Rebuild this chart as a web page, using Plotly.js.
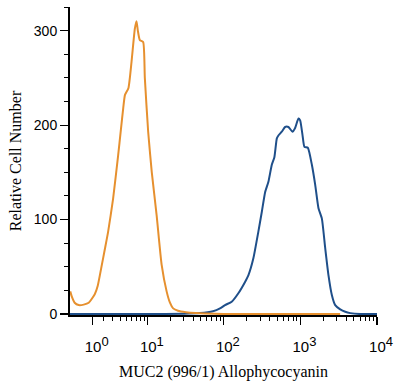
<!DOCTYPE html>
<html><head><meta charset="utf-8">
<script src="https://cdn.plot.ly/plotly-3.0.1.min.js"></script>
<style>html,body{margin:0;padding:0;background:#fff}</style>
</head><body><div id="chart" style="width:400px;height:386px"></div>
<script>
// Isotype control (orange): fluorescence intensity and cell counts
const isotypeIntensity = [-0.86, -0.74, -0.49, -0.16, 0.25, 0.66, 1.18, 1.45, 1.80, 2.13,
  2.49, 3.07, 3.73, 4.12, 4.48, 4.76, 5.35, 5.94, 6.62, 6.99,
  7.29, 7.77, 8.63, 9.10, 10.1, 11.3, 13.1, 15.3, 17.8, 19.7,
  21.7, 25.1, 31.9, 43.2, 56.7, 100, 300, 1000, 3300];
const isotypeCount = [24, 19, 12, 9.5, 10, 12, 21, 30, 50, 68,
  87, 122, 168, 195, 218, 232, 239, 267, 302, 310,
  300, 290, 288, 250, 193, 150, 105, 52, 24, 12,
  6, 3.5, 2, 1, 0.5, 0, 0, 0, 0];
// MUC2 (996/1) stained (blue)
const mucIntensity = [-0.88, 10, 30, 48.7, 72.1, 89.1, 103.6, 126.7, 154.7, 189.2,
  209, 243, 282, 313, 346, 382, 423, 457, 492, 516,
  571, 631, 697, 786, 853, 942, 992, 1063, 1129, 1250,
  1411, 1558, 1721, 1906, 2106, 2326, 2577, 2846, 3310, 3849,
  4475, 6047, 10000];
const mucCount = [0, 0, 0.3, 1, 3, 6, 9.5, 13, 22, 34,
  41, 59, 87, 108, 129, 140, 158, 166, 186, 189,
  193, 198, 198, 193, 197, 207, 205, 190, 177, 176,
  158, 137, 112, 101, 70, 41, 20, 9.5, 5, 2.4,
  1, 0, 0];
const majorTickValues = [1, 10, 100, 1000, 10000];
const majorTickExponents = ['0', '1', '2', '3', '4'];
const minorTickValues = [2,3,4,5,6,7,8,9, 20,30,40,50,60,70,80,90,
  200,300,400,500,600,700,800,900, 2000,3000,4000,5000,6000,7000,8000,9000];
const yTickValues = [0, 100, 200, 300];
const yTickLabels = ['0', '100', '200', '300'];
const xRangeIntensity = [-0.88, 10000];
const yRange = [-1, 325];

// biexponential-like display scale (asinh)
const W = 2.7;
const T = v => Math.asinh(v / W) / Math.LN10;
const majorTickLabels = majorTickExponents.map(e => '10<sup><span style="font-size:13px">' + e + '</span></sup>');

const traces = [
  {x: mucIntensity.map(T), y: mucCount, type: 'scatter', mode: 'lines',
   line: {color: '#1f4f8a', width: 2, shape: 'spline', smoothing: 0.5}, hoverinfo: 'skip', name: 'MUC2'},
  {x: isotypeIntensity.map(T), y: isotypeCount, type: 'scatter', mode: 'lines',
   line: {color: '#e6902f', width: 2, shape: 'spline', smoothing: 0.5}, hoverinfo: 'skip', name: 'Isotype'}
];

const layout = {
  width: 400, height: 386,
  margin: {l: 70, r: 23, t: 7, b: 71},
  paper_bgcolor: '#fff', plot_bgcolor: '#fff',
  showlegend: false,
  xaxis: {
    range: xRangeIntensity.map(T),
    tickmode: 'array', tickvals: majorTickValues.map(T), ticktext: majorTickLabels,
    ticks: 'outside', ticklen: 8, tickwidth: 1.2, tickcolor: '#000',
    minor: {tickmode: 'array', tickvals: minorTickValues.map(T), ticks: 'outside', ticklen: 4, tickwidth: 1, tickcolor: '#000', showgrid: false},
    showline: true, linecolor: '#000', linewidth: 2,
    showgrid: false, zeroline: false,
    tickfont: {family: 'Liberation Sans, Arial, sans-serif', size: 15, color: '#000'},
    ticklabelshift: 4, ticklabelstandoff: 9,
    title: {text: 'MUC2 (996/1) Allophycocyanin', font: {family: 'Liberation Serif, Times New Roman, serif', size: 16, color: '#000'}, standoff: 12},
    automargin: false, fixedrange: true
  },
  yaxis: {
    range: yRange,
    tickmode: 'array', tickvals: yTickValues, ticktext: yTickLabels,
    ticks: 'outside', ticklen: 8, tickwidth: 1.2, tickcolor: '#000',
    minor: {dtick: 25, ticks: 'outside', ticklen: 4, tickwidth: 1, tickcolor: '#000', showgrid: false},
    showline: true, linecolor: '#000', linewidth: 2,
    showgrid: false, zeroline: false,
    tickfont: {family: 'Liberation Sans, Arial, sans-serif', size: 14, color: '#000'},
    title: {text: 'Relative Cell Number', font: {family: 'Liberation Serif, Times New Roman, serif', size: 16, color: '#000'}, standoff: 8},
    automargin: false, fixedrange: true
  }
};

Plotly.newPlot('chart', traces, layout, {staticPlot: true, displayModeBar: false});
</script>
</body></html>
